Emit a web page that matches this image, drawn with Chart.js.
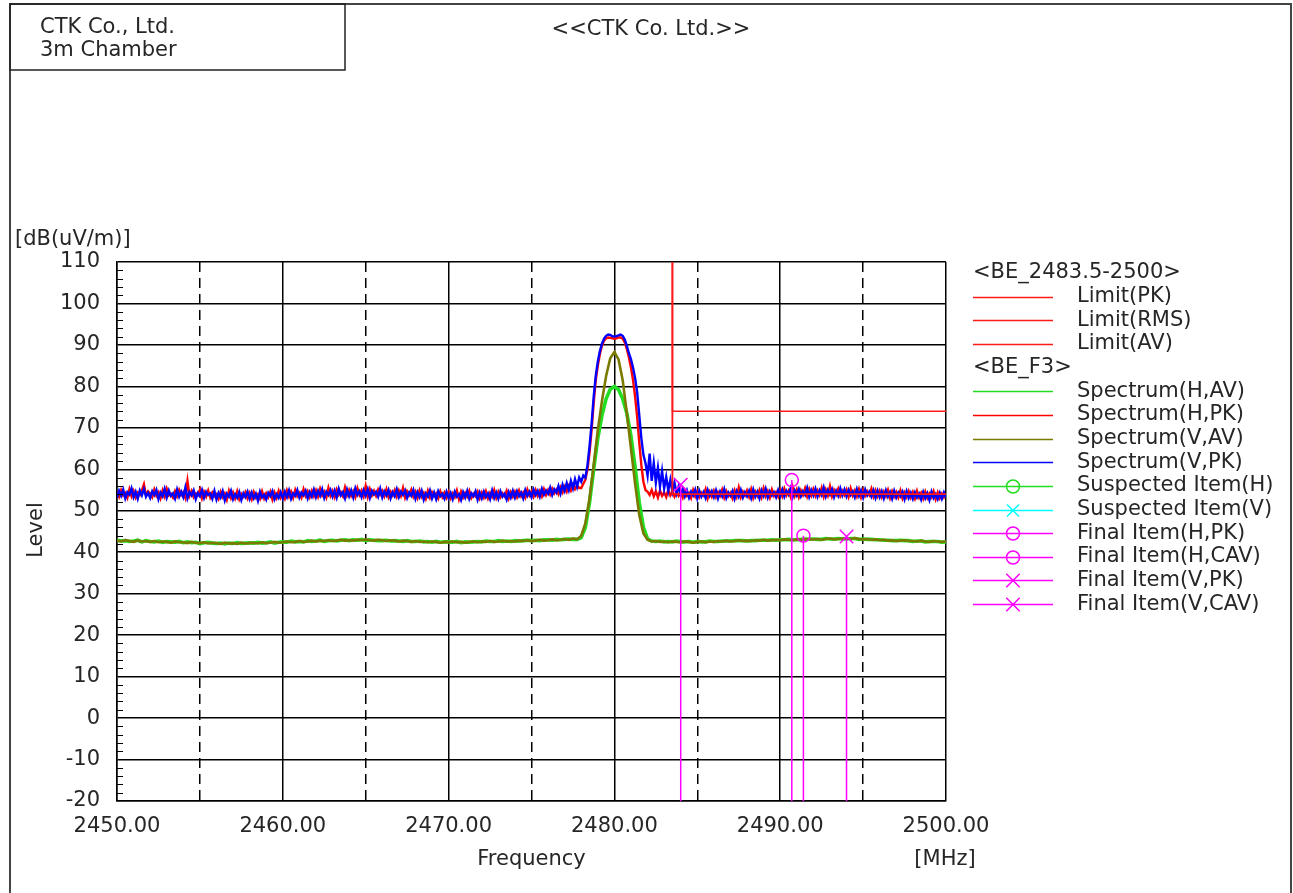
<!DOCTYPE html>
<html>
<head>
<meta charset="utf-8">
<title>CTK 3m Chamber - BE_F3</title>
<script src="https://cdn.jsdelivr.net/npm/chart.js"></script>
<style>
  body { margin: 0; background: #fff; }
  canvas { display: block; }
</style>
</head>
<body>
<canvas id="chart" width="1293" height="893"></canvas>
<script>
// sweep grids (MHz)
const PK_START = 2450, PK_STEP = 0.125;
const AV_START = 2450, AV_STEP = 0.25;

// Spectrum(V,PK) - dB(uV/m), one row = 2 MHz
const specVPK = [
  53.2, 54.8, 53.6, 55.1, 53.0, 54.5, 53.9, 55.4, 53.3, 54.6, 52.9, 54.9, 53.7, 55.2, 53.4, 54.3,
  53.1, 54.7, 53.8, 55.0, 52.8, 54.4, 53.5, 55.3, 53.2, 54.9, 53.6, 54.2, 52.9, 55.1, 53.4, 54.6,
  53.3, 55.6, 53.0, 54.5, 53.7, 54.9, 52.8, 54.3, 53.5, 55.0, 53.1, 54.6, 53.8, 54.2, 52.9, 54.8,
  52.7, 54.3, 53.2, 54.7, 52.5, 54.1, 53.4, 54.8, 52.8, 54.0, 53.1, 54.5, 52.6, 54.2, 53.3, 54.6,
  52.9, 54.4, 53.0, 54.1, 52.4, 54.6, 53.2, 53.9, 52.7, 54.3, 53.5, 54.7, 52.8, 54.0, 53.1, 54.5,
  53.0, 54.6, 53.3, 54.9, 52.9, 54.2, 53.6, 55.0, 53.2, 54.4, 53.7, 54.8, 53.0, 54.5, 53.4, 55.1,
  53.3, 54.8, 53.6, 55.2, 53.1, 54.6, 53.8, 55.0, 53.4, 54.9, 53.2, 55.3, 53.7, 54.5, 53.0, 55.1,
  53.5, 54.9, 53.2, 55.4, 53.8, 54.7, 53.3, 55.0, 53.6, 55.2, 53.1, 54.8, 53.9, 54.6, 53.4, 55.3,
  53.2, 54.7, 53.7, 55.0, 53.0, 54.5, 53.5, 55.2, 53.3, 54.6, 53.8, 54.9, 53.1, 54.4, 53.6, 55.0,
  52.9, 54.5, 53.3, 54.8, 52.7, 54.2, 53.4, 54.9, 53.0, 54.4, 52.8, 54.7, 53.5, 54.1, 52.9, 54.6,
  53.1, 54.3, 52.8, 54.6, 53.4, 54.0, 52.6, 54.5, 53.2, 54.8, 52.9, 54.2, 53.5, 54.7, 52.7, 54.4,
  53.0, 54.6, 53.3, 54.2, 52.8, 54.9, 53.1, 54.4, 52.9, 54.7, 53.4, 54.1, 52.7, 54.5, 53.2, 54.8,
  53.2, 54.7, 53.5, 54.4, 53.0, 55.0, 53.6, 54.6, 53.3, 55.1, 53.8, 54.8, 53.4, 55.3, 53.9, 54.9,
  54.1, 55.6, 53.8, 55.2, 54.4, 56.0, 54.2, 56.3, 54.8, 56.7, 55.0, 57.2, 55.4, 57.6, 55.8, 58.0,
  57.0, 58.5, 58.0, 61.0, 65.5, 71.0, 77.5, 82.5, 86.0, 88.5, 90.3, 91.5, 92.2, 92.5, 92.4, 92.1,
  92.0, 92.1, 92.3, 92.5, 92.2, 91.3, 89.8, 88.0, 86.5, 84.5, 82.0, 78.5, 73.0, 67.5, 63.5, 61.5,
  58.5, 63.8, 57.2, 61.5, 56.8, 60.4, 55.9, 59.6, 55.4, 58.2, 54.9, 57.5, 54.6, 56.8, 54.2, 55.9,
  53.8, 55.3, 53.5, 54.9, 53.2, 54.6, 53.7, 55.1, 53.0, 54.8, 53.4, 54.5, 53.1, 55.0, 53.6, 54.7,
  53.3, 54.9, 53.0, 54.6, 53.5, 55.2, 53.1, 54.4, 53.6, 54.8, 52.9, 54.7, 53.4, 55.0, 53.2, 54.5,
  53.5, 54.8, 53.1, 55.1, 53.4, 54.6, 53.0, 54.9, 53.6, 55.3, 53.2, 54.7, 53.7, 54.5, 53.3, 55.0,
  53.6, 55.1, 53.4, 54.8, 53.9, 55.4, 53.3, 54.9, 53.7, 55.2, 53.5, 54.7, 53.8, 55.5, 53.4, 55.0,
  53.7, 55.3, 53.4, 54.9, 53.8, 55.6, 53.5, 55.0, 53.9, 55.2, 53.3, 54.8, 53.6, 55.4, 53.7, 55.1,
  53.5, 55.0, 53.8, 54.7, 53.3, 55.2, 53.6, 54.9, 53.2, 55.1, 53.7, 54.6, 53.4, 54.9, 53.1, 54.8,
  53.3, 54.7, 53.0, 54.9, 53.4, 54.5, 52.9, 54.8, 53.2, 54.4, 53.5, 54.6, 52.8, 54.7, 53.1, 54.3,
  52.9, 54.4, 53.2, 54.1, 52.7, 54.5, 53.0, 54.2, 52.6, 54.6, 53.1, 54.0, 52.8, 54.3, 52.9, 54.4,
  53.2
];

// Spectrum(H,PK)
const specHPK = [
  54.6, 53.4, 55.0, 53.7, 54.3, 53.1, 55.2, 53.5, 54.8, 53.2, 54.4, 53.8, 54.9, 56.4, 53.6, 54.7,
  54.2, 53.3, 55.1, 53.6, 54.5, 53.0, 54.9, 53.4, 55.3, 53.7, 54.1, 53.2, 54.7, 53.5, 55.0, 53.8,
  54.5, 53.1, 57.2, 53.6, 54.8, 53.3, 54.2, 53.7, 55.1, 53.0, 54.6, 53.4, 54.9, 53.2, 54.4, 53.5,
  54.0, 52.9, 54.6, 53.3, 54.2, 52.7, 54.8, 53.1, 54.4, 53.0, 54.7, 52.8, 54.1, 53.4, 54.5, 53.0,
  54.3, 52.8, 54.5, 53.2, 54.0, 52.9, 54.7, 53.0, 54.2, 53.3, 54.6, 52.7, 54.4, 53.1, 54.8, 53.2,
  54.4, 53.0, 54.9, 53.4, 54.6, 53.1, 55.0, 53.5, 54.3, 53.2, 55.2, 53.6, 54.7, 53.3, 54.8, 53.5,
  54.9, 53.4, 55.3, 53.7, 54.6, 53.2, 55.5, 53.6, 54.8, 53.3, 55.1, 53.8, 54.5, 53.5, 55.6, 53.7,
  55.0, 53.6, 54.7, 53.3, 55.4, 53.8, 54.9, 53.5, 56.0, 53.4, 55.2, 53.7, 54.8, 53.6, 55.1, 53.9,
  54.8, 53.5, 55.2, 53.3, 54.6, 53.7, 55.0, 53.4, 54.9, 53.6, 55.5, 53.2, 54.7, 53.8, 55.1, 53.4,
  54.6, 53.1, 54.9, 53.4, 54.3, 52.9, 54.8, 53.2, 54.5, 53.5, 54.2, 53.0, 54.7, 53.3, 54.4, 53.1,
  54.5, 53.0, 54.2, 53.3, 54.9, 52.8, 54.6, 53.2, 54.3, 53.4, 54.8, 53.1, 54.1, 53.5, 54.6, 53.0,
  54.4, 53.2, 54.7, 53.0, 54.3, 53.4, 55.0, 53.1, 54.6, 53.3, 54.2, 53.5, 54.8, 53.0, 54.5, 53.4,
  54.6, 53.3, 54.9, 53.5, 54.4, 53.2, 55.1, 53.7, 54.7, 53.4, 55.0, 53.6, 54.8, 53.5, 55.2, 53.8,
  55.0, 53.9, 55.3, 54.2, 55.1, 54.0, 55.6, 54.4, 55.8, 54.6, 56.0, 54.9, 56.3, 55.2, 56.1, 55.5,
  55.5, 56.5, 57.5, 60.0, 64.0, 69.5, 76.0, 81.5, 85.0, 87.8, 89.8, 91.0, 91.6, 91.8, 91.7, 91.6,
  91.5, 91.6, 91.8, 91.8, 91.5, 90.6, 89.0, 87.0, 84.5, 81.5, 77.5, 72.5, 66.5, 61.0, 57.0, 55.0,
  54.6, 53.8, 55.0, 53.5, 54.7, 53.2, 54.9, 53.6, 54.4, 53.3, 55.1, 53.7, 54.5, 53.4, 54.8, 53.6,
  54.5, 53.2, 54.9, 53.6, 54.3, 53.1, 55.0, 53.5, 54.7, 53.3, 54.4, 53.7, 55.2, 53.0, 54.6, 53.4,
  54.8, 53.3, 54.5, 53.6, 55.1, 53.2, 54.7, 53.5, 54.3, 53.0, 54.9, 53.4, 55.6, 53.3, 54.6, 53.7,
  54.9, 53.4, 55.2, 53.1, 54.6, 53.6, 55.0, 53.3, 55.4, 53.5, 54.7, 53.2, 55.1, 53.6, 54.5, 53.4,
  55.0, 53.5, 55.3, 53.7, 54.8, 53.4, 55.7, 53.6, 55.1, 53.3, 54.9, 53.8, 55.4, 53.5, 55.2, 53.7,
  55.2, 53.6, 54.9, 53.8, 55.5, 53.4, 55.1, 53.7, 55.9, 53.5, 55.0, 53.9, 55.3, 53.6, 54.8, 53.8,
  55.1, 53.4, 55.4, 53.7, 54.9, 53.5, 55.2, 53.3, 55.0, 53.6, 54.7, 53.8, 55.3, 53.4, 54.9, 53.5,
  54.8, 53.3, 54.6, 53.5, 55.0, 53.1, 54.7, 53.4, 54.5, 53.2, 54.9, 53.0, 54.4, 53.3, 54.7, 53.2,
  54.5, 53.0, 54.8, 53.2, 54.3, 52.9, 54.6, 53.1, 54.2, 53.3, 54.7, 52.8, 54.4, 53.0, 54.1, 53.2,
  54.0
];

// Spectrum(V,AV), one row = 2 MHz
const specVAV = [
  42.8, 42.6, 42.9, 42.7, 42.5, 42.8, 42.6, 42.7,
  42.5, 42.7, 42.4, 42.6, 42.5, 42.3, 42.6, 42.4,
  42.4, 42.2, 42.5, 42.3, 42.2, 42.4, 42.1, 42.3,
  42.2, 42.0, 42.3, 42.1, 42.2, 42.0, 42.3, 42.1,
  42.2, 42.3, 42.1, 42.4, 42.2, 42.3, 42.5, 42.3,
  42.4, 42.6, 42.4, 42.5, 42.7, 42.5, 42.6, 42.8,
  42.6, 42.8, 42.7, 42.9, 42.7, 42.8, 43.0, 42.8,
  42.9, 42.8, 43.0, 42.9, 43.1, 42.9, 42.8, 43.0,
  42.9, 42.7, 42.9, 42.8, 42.6, 42.8, 42.7, 42.5,
  42.7, 42.5, 42.6, 42.4, 42.6, 42.5, 42.3, 42.5,
  42.4, 42.6, 42.4, 42.5, 42.3, 42.5, 42.6, 42.4,
  42.6, 42.5, 42.7, 42.5, 42.6, 42.8, 42.6, 42.7,
  42.6, 42.8, 42.7, 42.9, 42.7, 42.8, 43.0, 42.8,
  42.9, 43.1, 42.9, 43.0, 43.2, 43.0, 43.3, 43.1,
  44.0, 47.0, 53.0, 61.0, 69.5, 76.5, 82.5, 86.8,
  88.3, 86.5, 81.5, 73.5, 65.0, 56.5, 49.0, 44.5,
  43.0, 42.6, 42.7, 42.5, 42.6, 42.4, 42.6, 42.5,
  42.4, 42.6, 42.5, 42.3, 42.5, 42.6, 42.4, 42.6,
  42.5, 42.7, 42.6, 42.8, 42.6, 42.7, 42.9, 42.7,
  42.8, 42.7, 42.9, 42.8, 43.0, 42.8, 42.9, 43.0,
  42.9, 43.1, 43.0, 42.9, 43.1, 43.0, 43.2, 43.1,
  43.1, 43.2, 43.0, 43.2, 43.3, 43.1, 43.2, 43.3,
  43.3, 43.2, 43.4, 43.2, 43.1, 43.2, 43.0, 43.1,
  42.9, 43.0, 42.8, 42.9, 42.7, 42.8, 42.9, 42.7,
  42.7, 42.6, 42.8, 42.6, 42.5, 42.7, 42.6, 42.5,
  42.6
];

// Spectrum(H,AV)
const specHAV = [
  42.9, 42.7, 42.8, 42.6, 42.7, 42.9, 42.5, 42.8,
  42.6, 42.5, 42.7, 42.4, 42.6, 42.5, 42.4, 42.6,
  42.3, 42.5, 42.3, 42.4, 42.1, 42.3, 42.4, 42.2,
  42.1, 42.2, 42.0, 42.2, 42.1, 42.3, 42.1, 42.2,
  42.3, 42.2, 42.4, 42.2, 42.3, 42.5, 42.2, 42.4,
  42.5, 42.4, 42.7, 42.5, 42.6, 42.5, 42.8, 42.6,
  42.7, 42.9, 42.6, 42.8, 42.9, 42.7, 42.9, 43.0,
  42.8, 43.0, 42.9, 43.1, 42.8, 43.0, 42.9, 42.8,
  42.8, 42.9, 42.7, 42.8, 42.7, 42.6, 42.8, 42.6,
  42.6, 42.7, 42.5, 42.6, 42.4, 42.6, 42.4, 42.5,
  42.5, 42.4, 42.6, 42.3, 42.5, 42.4, 42.5, 42.6,
  42.5, 42.7, 42.6, 42.6, 42.8, 42.6, 42.7, 42.6,
  42.8, 42.7, 42.8, 42.9, 42.8, 42.9, 42.8, 43.0,
  43.0, 42.9, 43.1, 43.0, 43.1, 43.2, 43.1, 43.1,
  43.5, 46.0, 52.0, 60.0, 67.5, 73.0, 77.0, 79.3,
  80.0, 79.2, 77.0, 73.5, 68.0, 60.5, 52.0, 46.0,
  43.2, 42.7, 42.6, 42.7, 42.5, 42.6, 42.5, 42.7,
  42.5, 42.5, 42.6, 42.4, 42.6, 42.5, 42.5, 42.7,
  42.6, 42.6, 42.7, 42.7, 42.7, 42.8, 42.8, 42.8,
  42.7, 42.8, 42.8, 42.9, 42.9, 42.9, 43.0, 42.9,
  43.0, 43.0, 43.1, 43.0, 43.0, 43.1, 43.1, 43.2,
  43.2, 43.1, 43.1, 43.3, 43.2, 43.2, 43.3, 43.2,
  43.2, 43.3, 43.3, 43.1, 43.2, 43.1, 43.1, 43.0,
  43.0, 42.9, 42.9, 42.8, 42.8, 42.9, 42.8, 42.8,
  42.6, 42.7, 42.7, 42.5, 42.6, 42.6, 42.6, 42.4,
  42.5
];

// limits <BE_2483.5-2500>
const limitFreq = [2483.5, 2483.5, 2500];
const limitPK = [110, 74, 74];
const limitRMS = [110, 54, 54];
const limitAV = [110, 54, 54];

// final items
const finalLabels = ['Final Item(H,PK)', 'Final Item(H,CAV)', 'Final Item(V,PK)', 'Final Item(V,CAV)'];
const finalFreq = [2490.7, 2491.4, 2484.0, 2494.0];
const finalLevel = [57.4, 44.0, 56.3, 43.8];

// axes
const xMin = 2450, xMax = 2500, xStep = 5;
const yMin = -20, yMax = 110, yStep = 10;

const legendRows = [
  '<BE_2483.5-2500>', 'Limit(PK)', 'Limit(RMS)', 'Limit(AV)',
  '<BE_F3>', 'Spectrum(H,AV)', 'Spectrum(H,PK)', 'Spectrum(V,AV)', 'Spectrum(V,PK)',
  'Suspected Item(H)', 'Suspected Item(V)',
  'Final Item(H,PK)', 'Final Item(H,CAV)', 'Final Item(V,PK)', 'Final Item(V,CAV)'
];

const FONT = '"DejaVu Sans", sans-serif';
const TEXT = '#262626';
const RED = '#ff1a1a', MAGENTA = '#ff00ff';

function sweep(values, start, step) {
  return values.map((v, i) => ({ x: start + i * step, y: v }));
}
function pairs(xs, ys) {
  return xs.map((x, i) => ({ x: x, y: ys[i] }));
}

function finalDataset(i, style, radius) {
  return {
    label: finalLabels[i],
    data: [{ x: finalFreq[i], y: finalLevel[i] }, { x: finalFreq[i], y: yMin }],
    borderColor: MAGENTA,
    borderWidth: 1.5,
    pointStyle: style,
    pointRadius: [radius, 0],
    pointBorderColor: MAGENTA,
    pointBackgroundColor: 'rgba(0,0,0,0)',
    pointBorderWidth: 1.5
  };
}

const lineDs = (label, data, color, width) => ({
  label: label, data: data, borderColor: color, borderWidth: width,
  pointRadius: 0, tension: 0, fill: false
});

const datasets = [
  finalDataset(0, 'circle', 6.5),
  finalDataset(1, 'circle', 6.5),
  finalDataset(2, 'crossRot', 9.5),
  finalDataset(3, 'crossRot', 9.5),
  lineDs('Limit(PK)', pairs(limitFreq, limitPK), RED, 1.5),
  lineDs('Limit(RMS)', pairs(limitFreq, limitRMS), RED, 1.5),
  lineDs('Limit(AV)', pairs(limitFreq, limitAV), RED, 1.5),
  lineDs('Spectrum(V,PK)', sweep(specVPK, PK_START, PK_STEP), '#0000ff', 2.4),
  lineDs('Spectrum(H,PK)', sweep(specHPK, PK_START, PK_STEP), '#ff0000', 2.4),
  lineDs('Spectrum(V,AV)', sweep(specVAV, AV_START, AV_STEP), '#7a7a00', 2.6),
  lineDs('Spectrum(H,AV)', sweep(specHAV, AV_START, AV_STEP), '#22dd22', 3.6),
  Object.assign(lineDs('Suspected Item(H)', [], '#22dd22', 1.5), { pointStyle: 'circle', pointRadius: 6.5 }),
  Object.assign(lineDs('Suspected Item(V)', [], '#00ffff', 1.5), { pointStyle: 'crossRot', pointRadius: 8.5 })
];

function drawMarker(ctx, style, x, y, r) {
  ctx.beginPath();
  if (style === 'circle') {
    ctx.arc(x, y, r, 0, Math.PI * 2);
  } else {
    const d = r * Math.SQRT1_2;
    ctx.moveTo(x - d, y - d); ctx.lineTo(x + d, y + d);
    ctx.moveTo(x - d, y + d); ctx.lineTo(x + d, y - d);
  }
  ctx.stroke();
}

const decorPlugin = {
  id: 'decor',
  afterDraw(chart) {
    const ctx = chart.ctx;
    const yScale = chart.scales.y;
    const area = chart.chartArea;
    ctx.save();

    // minor ticks on the level axis (2 dB)
    ctx.strokeStyle = '#000';
    ctx.lineWidth = 1.2;
    ctx.beginPath();
    for (let v = yMin + 2; v < yMax; v += 2) {
      if (v % 10 === 0) continue;
      const py = Math.round(yScale.getPixelForValue(v)) + 0.5;
      ctx.moveTo(area.left, py);
      ctx.lineTo(area.left + 6, py);
    }
    ctx.stroke();

    // outer frame and header box
    ctx.strokeStyle = '#444';
    ctx.lineWidth = 2;
    ctx.beginPath();
    ctx.moveTo(10, 900); ctx.lineTo(10, 4); ctx.lineTo(1291, 4); ctx.lineTo(1291, 900);
    ctx.stroke();
    ctx.strokeStyle = '#222';
    ctx.lineWidth = 1.5;
    ctx.strokeRect(10, 4, 335, 66);

    ctx.fillStyle = TEXT;
    ctx.font = '21px ' + FONT;
    ctx.textBaseline = 'alphabetic';
    ctx.textAlign = 'left';
    ctx.fillText('CTK Co., Ltd.', 40, 33);
    ctx.fillText('3m Chamber', 40, 56);
    ctx.textAlign = 'center';
    ctx.fillText('<<CTK Co. Ltd.>>', 651, 35);

    // axis titles
    ctx.textAlign = 'left';
    ctx.fillText('[dB(uV/m)]', 15, 245);
    ctx.textAlign = 'center';
    ctx.textBaseline = 'middle';
    ctx.fillText('Frequency', (area.left + area.right) / 2, 860);
    ctx.fillText('[MHz]', 945, 860);
    ctx.save();
    ctx.translate(37, 530);
    ctx.rotate(-Math.PI / 2);
    ctx.fillText('Level', 0, 0);
    ctx.restore();

    // legend
    const lx0 = 973, lx1 = 1053, tx = 1077;
    legendRows.forEach((row, i) => {
      const y = 273 + i * 23.65;
      const ds = chart.data.datasets.find(d => d.label === row);
      ctx.fillStyle = TEXT;
      ctx.textAlign = 'left';
      ctx.textBaseline = 'middle';
      if (!ds) {
        ctx.fillText(row, lx0, y);
        return;
      }
      ctx.strokeStyle = ds.borderColor;
      ctx.lineWidth = 1.5;
      ctx.beginPath();
      ctx.moveTo(lx0, Math.round(y) + 0.5);
      ctx.lineTo(lx1, Math.round(y) + 0.5);
      ctx.stroke();
      if (ds.pointStyle) {
        const r = Array.isArray(ds.pointRadius) ? ds.pointRadius[0] : ds.pointRadius;
        drawMarker(ctx, ds.pointStyle, (lx0 + lx1) / 2, Math.round(y) + 0.5, r);
      }
      ctx.fillText(row, tx, y);
    });
    ctx.restore();
  }
};

new Chart(document.getElementById('chart'), {
  type: 'line',
  data: { datasets: datasets },
  options: {
    responsive: false,
    animation: false,
    devicePixelRatio: 1,
    events: [],
    layout: { padding: { left: 0, right: 347, top: 262, bottom: 0 } },
    plugins: { legend: { display: false }, tooltip: { enabled: false }, title: { display: false } },
    scales: {
      x: {
        type: 'linear',
        min: xMin, max: xMax,
        afterFit: s => { s.height = 92; },
        grid: { color: '#000', lineWidth: 1.5, drawTicks: false },
        border: {
          display: true, color: '#000', width: 1.5,
          dash: c => (c.tick && c.tick.value % 10 !== 0) ? [10, 6] : []
        },
        ticks: {
          stepSize: xStep,
          autoSkip: false,
          maxRotation: 0,
          padding: 13,
          color: TEXT,
          font: { family: FONT, size: 21 },
          callback: v => (v % 10 === 0 ? v.toFixed(2) : '')
        }
      },
      y: {
        type: 'linear',
        min: yMin, max: yMax,
        afterFit: s => { s.width = 117; },
        grid: { color: '#000', lineWidth: 1.5, drawTicks: false },
        border: { display: true, color: '#000', width: 1.5 },
        ticks: {
          stepSize: yStep,
          padding: 17,
          color: TEXT,
          font: { family: FONT, size: 21 }
        }
      }
    }
  },
  plugins: [decorPlugin]
});
</script>
</body>
</html>
